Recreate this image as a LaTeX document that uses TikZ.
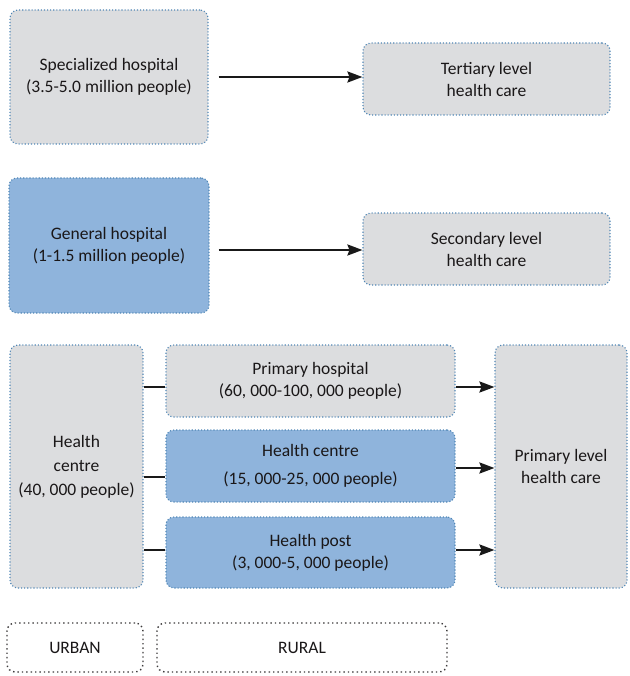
\documentclass[tikz,border=0pt]{standalone}
\usepackage{fontspec}
\setmainfont{Carlito}
\usetikzlibrary{arrows.meta}
\definecolor{boxgray}{HTML}{DCDDDF}
\definecolor{boxblue}{HTML}{8FB4DC}
\definecolor{dotblue}{HTML}{4F86B5}
\definecolor{txt}{HTML}{1A1718}
\begin{document}
\begin{tikzpicture}[x=1pt,y=-1pt,
  base/.style={rectangle, rounded corners=8pt, line width=1.1pt,
    dash pattern=on 1.1pt off 2pt, align=center, inner sep=0pt,
    text=txt, font=\fontsize{17.5}{22}\selectfont},
  gbox/.style={base, draw=dotblue, fill=boxgray},
  bbox/.style={base, draw=dotblue, fill=boxblue},
  lbox/.style={base, draw=txt!85, fill=white, line width=1.4pt, dash pattern=on 1.4pt off 3pt},
  arr/.style={line width=2.2pt, draw=black!90, -{Stealth[length=15pt,width=11pt,inset=2pt]}},
  lnk/.style={line width=2.2pt, draw=black!90}]
\useasboundingbox (0,0) rectangle (629,676);
% top row
\node[gbox, minimum width=198pt, minimum height=134pt] (spec) at (109,77)
  {Specialized hospital\\(3.5-5.0 million people)};
\node[gbox, minimum width=247pt, minimum height=72pt] (tert) at (486.5,79)
  {Tertiary level\\health care};
% middle row
\node[bbox, minimum width=200pt, minimum height=135pt] (gen) at (109,245.5)
  {General hospital\\(1-1.5 million people)};
\node[gbox, minimum width=247pt, minimum height=72pt] (sec) at (486.5,249)
  {Secondary level\\health care};
% bottom group
\node[gbox, minimum width=133pt, minimum height=243pt, font=\fontsize{17.5}{24}\selectfont] (hcu) at (76.5,466.5)
  {Health\\centre\\(40, 000 people)};
\node[gbox, minimum width=289pt, minimum height=72pt] (ph) at (310.5,381)
  {Primary hospital\\(60, 000-100, 000 people)};
\node[bbox, minimum width=289pt, minimum height=72pt, font=\fontsize{17.5}{28}\selectfont] (hcr) at (310.5,466)
  {Health centre\\(15, 000-25, 000 people)};
\node[bbox, minimum width=289pt, minimum height=71pt] (hp) at (310.5,552.5)
  {Health post\\(3, 000-5, 000 people)};
\node[gbox, minimum width=132pt, minimum height=243pt] (plv) at (561,466.5)
  {Primary level\\health care};
% labels
\node[lbox, minimum width=136pt, minimum height=49pt] (urban) at (75,647.5) {URBAN};
\node[lbox, minimum width=290pt, minimum height=49pt] (rural) at (302,647.5) {RURAL};
% connectors
\draw[arr] ([xshift=10pt]spec.east) -- (tert.west |- spec.east);
\draw[arr] ([xshift=9pt,yshift=-4.5pt]gen.east) -- ([yshift=-4.5pt]sec.west |- gen.east);
\draw[lnk] (hcu.east |- 0,387) -- (ph.west |- 0,387);
\draw[lnk] (hcu.east |- 0,477) -- (hcr.west |- 0,477);
\draw[lnk] (hcu.east |- 0,550) -- (hp.west |- 0,550);
\draw[arr] (ph.east |- 0,387) -- (plv.west |- 0,387);
\draw[arr] (hcr.east |- 0,468) -- (plv.west |- 0,468);
\draw[arr] (hp.east |- 0,550) -- (plv.west |- 0,550);
\end{tikzpicture}
\end{document}
